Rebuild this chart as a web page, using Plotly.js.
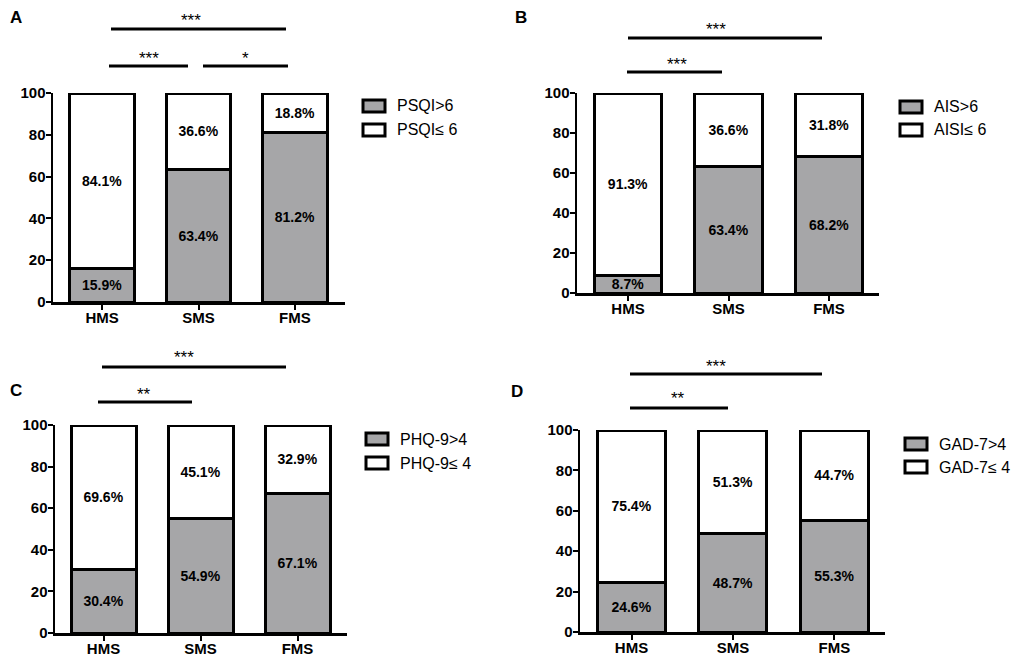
<!DOCTYPE html>
<html>
<head>
<meta charset="utf-8">
<script src="https://cdn.plot.ly/plotly-3.0.1.min.js"></script>
<style>html,body{margin:0;padding:0;background:#fff;}#chart{width:1021px;height:669px;}</style>
</head>
<body>
<div id="chart"></div>
<script>
// ---------- data ----------
const categories = ['HMS', 'SMS', 'FMS'];
const psqiHigh = [15.9, 63.4, 81.2];
const psqiLow  = [84.1, 36.6, 18.8];
const aisHigh  = [8.7, 63.4, 68.2];
const aisLow   = [91.3, 36.6, 31.8];
const phqHigh  = [30.4, 54.9, 67.1];
const phqLow   = [69.6, 45.1, 32.9];
const gadHigh  = [24.6, 48.7, 55.3];
const gadLow   = [75.4, 51.3, 44.7];
const seriesNames = [
  ['PSQI>6', 'PSQI\u2264 6'],
  ['AIS>6', 'AISI\u2264 6'],
  ['PHQ-9>4', 'PHQ-9\u2264 4'],
  ['GAD-7>4', 'GAD-7\u2264 4']
];
const panelLetters = ['A', 'B', 'C', 'D'];
const sigLabelsA = ['***', '***', '*'];
const sigLabelsB = ['***', '***'];
const sigLabelsC = ['***', '**'];
const sigLabelsD = ['***', '**'];
const yTicks = [0, 20, 40, 60, 80, 100];

// ---------- layout config (pixels) ----------
const W = 1021, H = 669;
const px = v => v / W;
const py = v => 1 - v / H;
const GRAY = '#a6a6a8';
const FONT = 'Arial, "Liberation Sans", sans-serif';

const panels = [
  { high: psqiHigh, low: psqiLow, names: seriesNames[0], letter: panelLetters[0],
    xd: [53, 345], yd: [93, 302], range: [-0.51, 2.52],
    leg: { x: 363, y1: 106, y2: 130 }, let: { x: 16, y: 18 },
    sig: [ { x0: 111, x1: 286, y: 29, tx: 191, ty: 17, label: sigLabelsA[0] },
           { x0: 109, x1: 188, y: 66, tx: 149, ty: 55, label: sigLabelsA[1] },
           { x0: 203, x1: 288, y: 66, tx: 245, ty: 55, label: sigLabelsA[2] } ] },
  { high: aisHigh, low: aisLow, names: seriesNames[1], letter: panelLetters[1],
    xd: [577, 879], yd: [93, 293], range: [-0.507, 2.497],
    leg: { x: 900, y1: 107, y2: 130 }, let: { x: 521, y: 18 },
    sig: [ { x0: 628, x1: 822, y: 38, tx: 716, ty: 25, label: sigLabelsB[0] },
           { x0: 627, x1: 722, y: 72, tx: 677, ty: 60, label: sigLabelsB[1] } ] },
  { high: phqHigh, low: phqLow, names: seriesNames[2], letter: panelLetters[2],
    xd: [55, 347], yd: [425, 633], range: [-0.5, 2.51],
    leg: { x: 366, y1: 439, y2: 463 }, let: { x: 16, y: 390 },
    sig: [ { x0: 102, x1: 286, y: 367, tx: 184, ty: 354, label: sigLabelsC[0] },
           { x0: 98, x1: 192, y: 402, tx: 144, ty: 390, label: sigLabelsC[1] } ] },
  { high: gadHigh, low: gadLow, names: seriesNames[3], letter: panelLetters[3],
    xd: [580, 885], yd: [430, 632], range: [-0.508, 2.5],
    leg: { x: 905, y1: 444, y2: 467 }, let: { x: 517, y: 391 },
    sig: [ { x0: 630, x1: 822, y: 374, tx: 716, ty: 362, label: sigLabelsD[0] },
           { x0: 630, x1: 728, y: 408, tx: 678, ty: 395, label: sigLabelsD[1] } ] }
];

const traces = [];
const layout = {
  width: W, height: H,
  margin: { l: 0, r: 0, t: 0, b: 0 },
  paper_bgcolor: '#fff', plot_bgcolor: 'rgba(0,0,0,0)',
  barmode: 'stack',
  showlegend: false,
  font: { family: FONT, color: '#000' },
  shapes: [], annotations: []
};

panels.forEach((p, i) => {
  const n = i === 0 ? '' : String(i + 1);
  const xa = 'x' + n, ya = 'y' + n;
  const fmt = arr => arr.map(v => v.toFixed(1) + '%');
  const common = {
    type: 'bar', x: categories, xaxis: xa, yaxis: ya, width: 0.67,
    textposition: 'inside', insidetextanchor: 'middle', textangle: 0,
    constraintext: 'none', cliponaxis: false,
    textfont: { family: FONT, size: 14, color: '#000', weight: 'bold' },
    hoverinfo: 'none'
  };
  traces.push(Object.assign({}, common, {
    y: p.high, text: fmt(p.high), name: p.names[0],
    marker: { color: GRAY, line: { color: '#000', width: 3 } }
  }));
  traces.push(Object.assign({}, common, {
    y: p.low, text: fmt(p.low), name: p.names[1],
    marker: { color: '#fff', line: { color: '#000', width: 3 } }
  }));
  layout['xaxis' + n] = {
    domain: [px(p.xd[0]), px(p.xd[1])], anchor: ya, range: p.range,
    showline: true, linecolor: '#000', linewidth: 2.5, showgrid: false, zeroline: false,
    ticks: 'outside', ticklen: 5, tickwidth: 2, tickcolor: '#000', ticklabelstandoff: -5,
    tickfont: { family: FONT, size: 15, color: '#000', weight: 'bold' }, fixedrange: true
  };
  layout['yaxis' + n] = {
    domain: [py(p.yd[1]), py(p.yd[0])], anchor: xa, range: [0, 100],
    tickvals: yTicks, showline: true, linecolor: '#000', linewidth: 2.5,
    showgrid: false, zeroline: false, ticklabelstandoff: -3,
    ticks: 'outside', ticklen: 5, tickwidth: 2, tickcolor: '#000',
    tickfont: { family: FONT, size: 15, color: '#000', weight: 'bold' }, fixedrange: true
  };
  // significance brackets
  p.sig.forEach(s => {
    layout.shapes.push({ type: 'line', xref: 'paper', yref: 'paper',
      x0: px(s.x0), x1: px(s.x1), y0: py(s.y), y1: py(s.y),
      line: { color: '#000', width: 3 } });
    layout.annotations.push({ xref: 'paper', yref: 'paper', x: px(s.tx), y: py(s.ty + 4),
      text: s.label, showarrow: false, xanchor: 'center', yanchor: 'middle',
      font: { family: FONT, size: 17, color: '#000' } });
  });
  // legend
  [p.leg.y1, p.leg.y2].forEach((ly, k) => {
    layout.shapes.push({ type: 'rect', xref: 'paper', yref: 'paper',
      x0: px(p.leg.x), x1: px(p.leg.x + 22), y0: py(ly - 6), y1: py(ly + 6),
      fillcolor: k === 0 ? GRAY : '#fff', line: { color: '#000', width: 3 } });
    layout.annotations.push({ xref: 'paper', yref: 'paper', x: px(p.leg.x + 32), y: py(ly),
      text: p.names[k], showarrow: false, xanchor: 'left', yanchor: 'middle',
      font: { family: FONT, size: 16, color: '#000' } });
  });
  // panel letter
  layout.annotations.push({ xref: 'paper', yref: 'paper', x: px(p.let.x), y: py(p.let.y),
    text: '<b>' + p.letter + '</b>', showarrow: false, xanchor: 'center', yanchor: 'middle',
    font: { family: FONT, size: 17, color: '#000' } });
});

Plotly.newPlot('chart', traces, layout, { staticPlot: true, displayModeBar: false });
</script>
</body>
</html>
